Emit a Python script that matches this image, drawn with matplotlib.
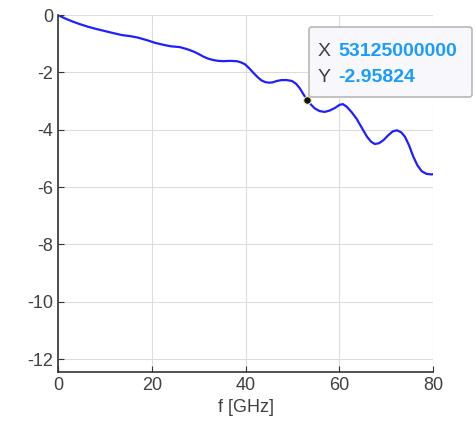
import matplotlib
matplotlib.use("Agg")
import matplotlib.pyplot as plt
from matplotlib.patches import FancyBboxPatch

plt.rcParams['font.family'] = ['Liberation Sans', 'DejaVu Sans']

f_ghz = [0, 1.5, 3, 4.5, 6.4, 8, 9.5, 11, 13.6, 15.5, 17.1, 19, 20.7, 22.5, 24,
         26, 27.5, 29, 30, 31, 32, 33.1, 34.2, 35.3, 36.7, 38.1, 39, 39.9, 40.8,
         41.7, 42.6, 43.4, 44.2, 45.0, 45.8, 46.7, 47.7, 48.8, 49.9, 50.8, 51.6,
         52.3, 53.125, 54, 54.8, 55.8, 56.9, 58, 59.1, 60.1, 60.8, 61.6, 62.6,
         63.7, 64.8, 65.9, 66.8, 67.6, 68.5, 69.4, 70.4, 71.4, 72.3, 73.2, 74.0,
         74.9, 75.8, 76.7, 77.6, 78.6, 79.7, 80]
s_db = [0, -0.12, -0.22, -0.31, -0.41, -0.48, -0.54, -0.60, -0.70, -0.74, -0.79,
        -0.88, -0.97, -1.04, -1.09, -1.12, -1.19, -1.28, -1.36, -1.45, -1.52,
        -1.57, -1.60, -1.61, -1.60, -1.61, -1.65, -1.72, -1.86, -2.02, -2.17,
        -2.28, -2.34, -2.36, -2.35, -2.30, -2.27, -2.27, -2.30, -2.40, -2.56,
        -2.75, -2.95824, -3.13, -3.26, -3.35, -3.38, -3.33, -3.24, -3.13, -3.11,
        -3.20, -3.38, -3.62, -3.93, -4.24, -4.42, -4.50, -4.47, -4.37, -4.20,
        -4.06, -4.02, -4.09, -4.24, -4.55, -4.94, -5.25, -5.45, -5.54, -5.56,
        -5.55]

marker_x = 53.125
marker_y = -2.95824
xticks = [0, 20, 40, 60, 80]
yticks = [0, -2, -4, -6, -8, -10, -12]

fig = plt.figure(figsize=(4.77, 4.32), dpi=100)
ax = fig.add_axes([58/477, 1-372/432, (433-58)/477, (372-15)/432])
ax.plot(f_ghz, s_db, color='#1f1fff', lw=1.6, solid_joinstyle='round',
        solid_capstyle='round')
ax.plot([marker_x], [marker_y], 'o', color='#111111', ms=5.5,
        mec='#f0f0b0', mew=0.8, zorder=5)

ax.set_xlim(0, 80)
ax.set_ylim(-12.45, 0)
ax.set_xticks(xticks)
ax.set_yticks(yticks)
ax.set_yticklabels([str(v) for v in yticks])
ax.grid(True, color='#dddddd', lw=0.8)
ax.set_axisbelow(True)
for s in ['top', 'right']:
    ax.spines[s].set_visible(False)
for s in ['left', 'bottom']:
    ax.spines[s].set_color('#333333')
    ax.spines[s].set_linewidth(1.2)
ax.tick_params(labelsize=13, colors='#333333', direction='in', length=4)
for lbl in ax.get_xticklabels() + ax.get_yticklabels():
    lbl.set_color('#404040')
ax.set_xlabel('f [GHz]', fontsize=13, color='#404040', labelpad=4)

# data tip
box = FancyBboxPatch((309/477, 1-97/432), (472-309)/477, (97-27)/432,
                     boxstyle='round,pad=0,rounding_size=0.006',
                     transform=fig.transFigure, fc='#f8f8fc', ec='#b8b8b8',
                     lw=1.2, zorder=10)
fig.patches.append(box)
fig.text(318/477, 1-52/432, 'X', fontsize=14, color='#404040', va='center', zorder=11)
fig.text(338/477, 1-52/432, '53125000000', fontsize=14, color='#1a9cff',
         fontweight='bold', va='center', zorder=11)
fig.text(318/477, 1-78/432, 'Y', fontsize=14, color='#404040', va='center', zorder=11)
fig.text(338/477, 1-78/432, f'{marker_y:.5f}', fontsize=14, color='#1a9cff',
         fontweight='bold', va='center', zorder=11)

fig.savefig('out.png', dpi=100)
